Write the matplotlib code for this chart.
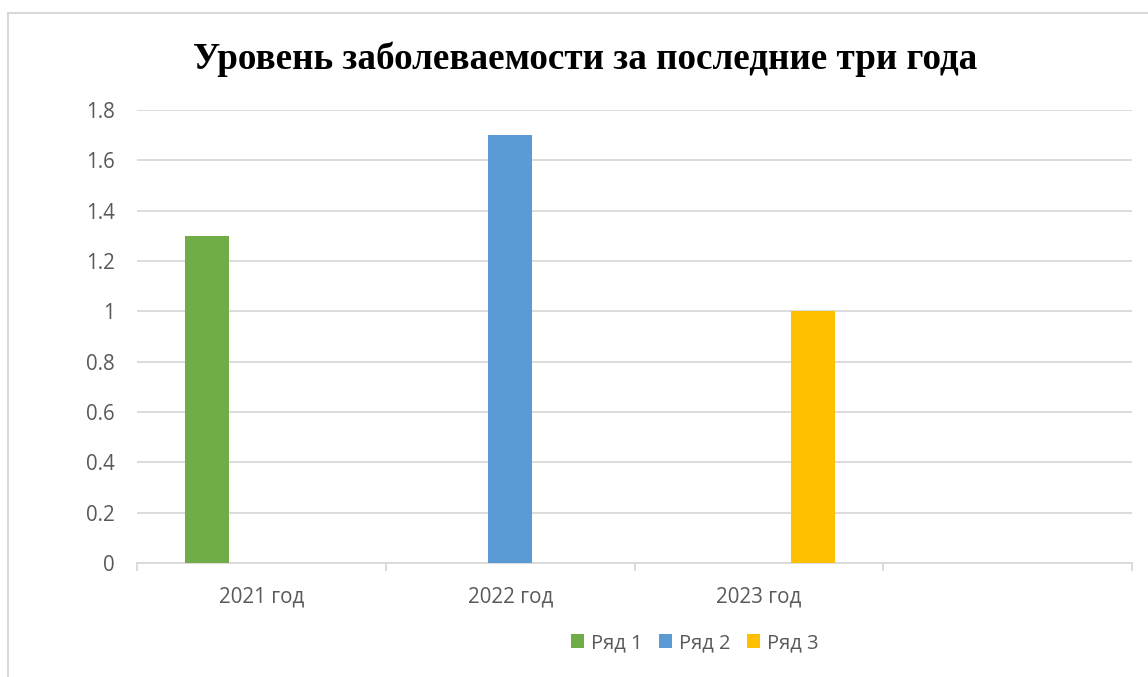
import numpy as np
import matplotlib.pyplot as plt
from matplotlib.patches import Rectangle
from matplotlib.ticker import FixedLocator, NullFormatter

plt.rcParams['font.family'] = ['Open Sans', 'DejaVu Sans']

categories = ['2021 год', '2022 год', '2023 год', '']
series_names = ['Ряд 1', 'Ряд 2', 'Ряд 3']
row1 = [1.3, 0, 0, np.nan]
row2 = [0, 1.7, 0, np.nan]
row3 = [0, 0, 1.0, np.nan]
colors = ['#70AD47', '#5B9BD5', '#FFC000']

W, H = 1148, 677
fig = plt.figure(figsize=(W / 100, H / 100), dpi=100)
ax = fig.add_axes([137 / W, 1 - 563 / H, (1132 - 137) / W, (563 - 110) / H])

x = np.arange(len(categories))
width = 0.177
offsets = [-0.217, 0, 0.217]
handles = []
for vals, name, col, off in zip([row1, row2, row3], series_names, colors, offsets):
    b = ax.bar(x + off, vals, width, color=col, label=name, zorder=3)
    handles.append(b)

ax.set_xlim(-0.5, len(categories) - 0.5)
ax.set_ylim(0, 1.8)
ax.set_yticks(np.arange(0, 1.81, 0.2))
ax.set_yticklabels(['0', '0.2', '0.4', '0.6', '0.8', '1', '1.2', '1.4', '1.6', '1.8'])
ax.grid(axis='y', color='#D9D9D9', linewidth=1.3, zorder=0)

ax.set_xticks(x)
ax.set_xticklabels(categories)
ax.xaxis.set_minor_locator(FixedLocator(np.arange(-0.5, len(categories), 1)))
ax.xaxis.set_minor_formatter(NullFormatter())
ax.tick_params(axis='x', which='major', length=0, pad=17, labelsize=14.8, labelcolor='#595959')
ax.tick_params(axis='x', which='minor', length=6, width=1.3, color='#D9D9D9')
ax.tick_params(axis='y', length=0, pad=16, labelsize=14.8, labelcolor='#595959')

for s in ['top', 'right', 'left']:
    ax.spines[s].set_visible(False)
ax.spines['bottom'].set_color('#D9D9D9')
ax.spines['bottom'].set_linewidth(1.3)

fig.text(585 / W, 1 - 59 / H, 'Уровень заболеваемости за последние три года',
         ha='center', va='center', fontsize=26.7, fontweight='bold',
         family=['Liberation Serif', 'DejaVu Serif'], color='black')

fig.legend(handles=handles, labels=series_names, loc='center', ncol=3,
           bbox_to_anchor=(695 / W, 1 - 643 / H), frameon=False,
           fontsize=14.5, labelcolor='#595959', handlelength=0.65, handleheight=0.65,
           handletextpad=0.35, columnspacing=0.8)

fig.add_artist(Rectangle((8 / W, -0.1), 1.2, 1 - 13 / H + 0.1, transform=fig.transFigure,
                         fill=False, edgecolor='#D9D9D9', linewidth=1.5))

fig.savefig('out.png', dpi=100)
